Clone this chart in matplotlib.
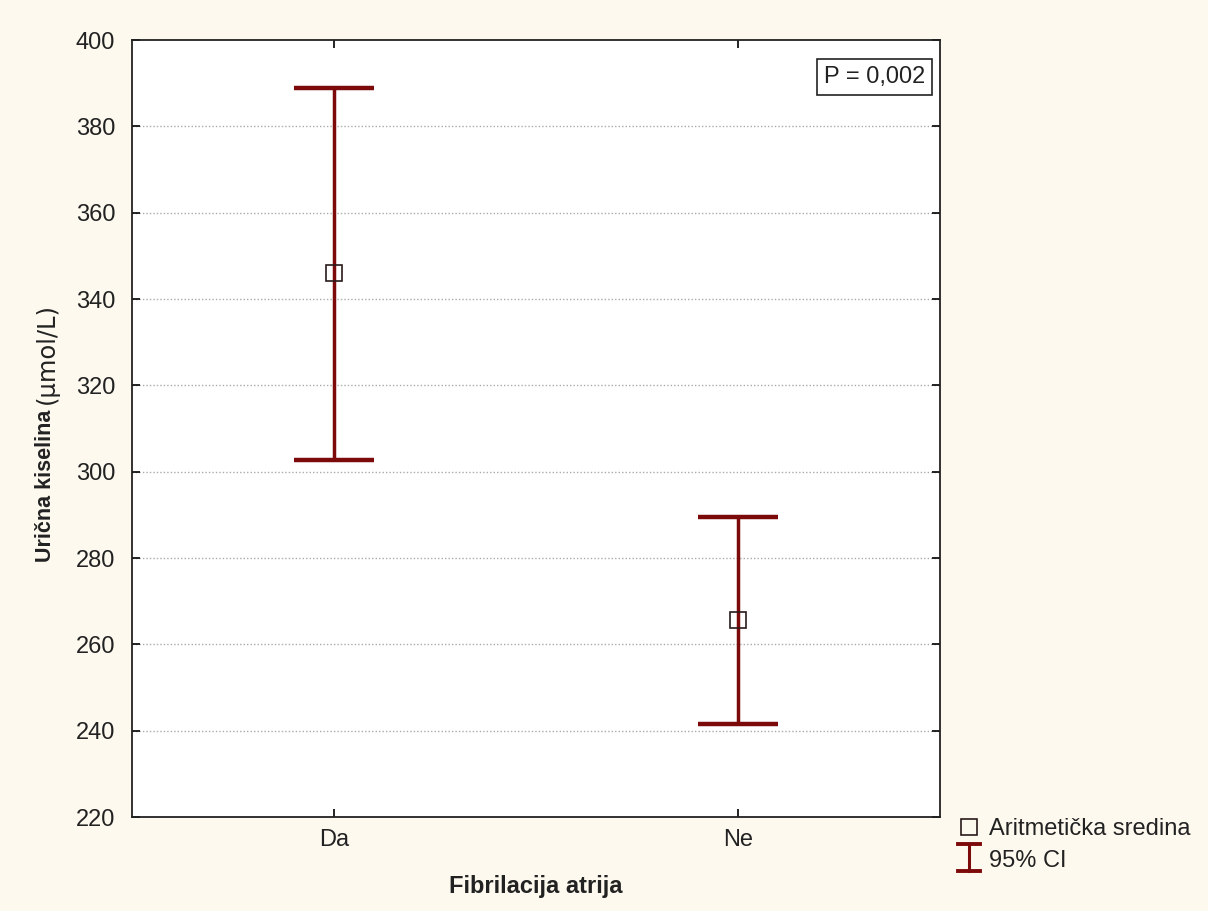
import matplotlib.pyplot as plt
import numpy as np
from matplotlib.lines import Line2D
from matplotlib.legend_handler import HandlerBase

groups = ['Da', 'Ne']
means = [346.0, 265.6]
ci_low = [302.6, 241.6]
ci_high = [388.9, 289.5]
y_ticks = [220, 240, 260, 280, 300, 320, 340, 360, 380, 400]

bar_color = '#7d0a0a'
bg = '#fdf9ef'
txt = '#222222'


class HandlerIBeam(HandlerBase):
    # legend icon for the CI bars: a small I-beam
    def create_artists(self, legend, orig_handle, xdescent, ydescent, width, height, fontsize, trans):
        cx = width / 2 - xdescent
        y0 = -ydescent - height * 0.25
        y1 = -ydescent + height * 1.4
        hw = width * 0.45
        v = Line2D([cx, cx], [y0, y1], color=bar_color, linewidth=2.2, transform=trans)
        t = Line2D([cx - hw, cx + hw], [y1, y1], color=bar_color, linewidth=2.8, transform=trans)
        b = Line2D([cx - hw, cx + hw], [y0, y0], color=bar_color, linewidth=2.8, transform=trans)
        return [v, t, b]


plt.rcParams['font.family'] = ['Liberation Sans', 'DejaVu Sans']

fig = plt.figure(figsize=(12.08, 9.11), dpi=100, facecolor=bg)
ax = fig.add_axes([132/1208, 1-817/911, 808/1208, 777/911])
ax.set_facecolor('white')

x = np.arange(len(groups))
means_a = np.array(means)
yerr = [means_a - np.array(ci_low), np.array(ci_high) - means_a]

# CI bars
ax.errorbar(x, means, yerr=yerr, fmt='none', ecolor=bar_color, elinewidth=2.5,
            capsize=29, capthick=3.2, zorder=3)
# means
ax.plot(x, means, linestyle='none', marker='s', markersize=11.5, markerfacecolor='none',
        markeredgecolor='#2a1a1a', markeredgewidth=1.2, zorder=4)

ax.set_xlim(-0.5, 1.5)
ax.set_ylim(220, 400)
ax.set_xticks(x)
ax.set_xticklabels(groups)
ax.set_yticks(y_ticks)
ax.tick_params(direction='in', top=True, right=True, length=6, width=1.2,
               labelsize=17, labelcolor=txt)
ax.tick_params(axis='y', pad=12)
ax.tick_params(axis='x', pad=9)
for s in ax.spines.values():
    s.set_linewidth(1.3)
    s.set_color(txt)

# dotted grid only on inner ticks
for v in y_ticks[1:-1]:
    ax.axhline(v, color='#aaaaaa', linestyle=(0, (1, 1.5)), linewidth=1, zorder=1)

ax.set_xlabel('Fibrilacija atrija', fontsize=17, fontweight='bold', labelpad=17, color=txt)

# y label: bold part + normal part
fig.text(46/1208, 1-562/911, 'Urična kiselina', rotation=90, ha='center', va='bottom',
         fontsize=15.5, fontweight='bold', color=txt)
fig.text(47/1208, 1-404/911, '(µmol/L)', rotation=90, ha='center', va='bottom',
         fontsize=17.5, family='DejaVu Sans', color=txt)

ax.text((925-132)/808, 1-(66-40)/777, 'P = 0,002', transform=ax.transAxes, ha='right', va='top',
        fontsize=17, color=txt,
        bbox=dict(boxstyle='square,pad=0.3', facecolor='white', edgecolor=txt, linewidth=1.2))

mean_handle = Line2D([], [], linestyle='none', marker='s', markersize=11.5, markerfacecolor='none',
                     markeredgecolor='#2a1a1a', markeredgewidth=1.2)
ci_handle = Line2D([], [], color=bar_color)
fig.legend([mean_handle, ci_handle], ['Aritmetička sredina', '95% CI'],
           handler_map={ci_handle: HandlerIBeam()},
           loc='upper left', bbox_to_anchor=(936/1208, 1-797/911), frameon=False,
           fontsize=17, handlelength=1.0, handletextpad=0.35, labelspacing=0.4,
           labelcolor=txt)

fig.savefig('out.png', dpi=100, facecolor=bg)
